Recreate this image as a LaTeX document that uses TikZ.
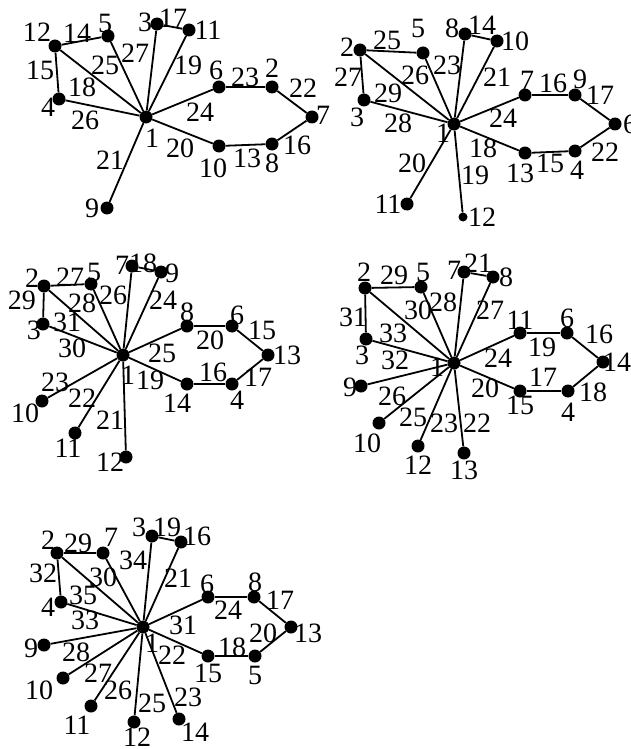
\documentclass[tikz,border=0pt]{standalone}
\usepackage{fontspec}
\setmainfont{Liberation Serif}
\begin{document}
\begin{tikzpicture}[x=1pt,y=-1pt,
  dot/.style={circle,fill=black,inner sep=0pt,minimum size=13pt},
  sdot/.style={circle,fill=black,inner sep=0pt,minimum size=9pt},
  lbl/.style={inner sep=0pt,font=\fontsize{28}{28}\selectfont},
  edge/.style={line width=1.8pt}]
\useasboundingbox (0,0) rectangle (630,749);
% ---------- Graph 1 ----------
\node[dot] (a1) at (146,117) {};
\node[dot] (a12) at (55,46) {};
\node[dot] (a5) at (108,36) {};
\node[dot] (a3) at (157,24) {};
\node[dot] (a11) at (189,30) {};
\node[dot] (a4) at (59,99) {};
\node[dot] (a6) at (219,87) {};
\node[dot] (a2) at (272,87) {};
\node[dot] (a7) at (312,117) {};
\node[dot] (a10) at (219,146) {};
\node[dot] (a8) at (272,144) {};
\node[dot] (a9) at (107,208) {};
\foreach \t in {12,5,3,11,4,6,10,9} \draw[edge] (a1) -- (a\t);
\draw[edge] (a12) -- (a5);
\draw[edge] (a12) -- (a4);
\draw[edge] (a3) -- (a11);
\draw[edge] (a6) -- (a2);
\draw[edge] (a2) -- (a7);
\draw[edge] (a7) -- (a8);
\draw[edge] (a8) -- (a10);
\node[lbl] (a1t12) at (37,32) {12};
\node[lbl] (a1t14) at (77,33) {14};
\node[lbl] (a1t5) at (105,23) {5};
\node[lbl] (a1t3) at (145,22) {3};
\node[lbl] (a1t17) at (173,18) {17};
\node[lbl] (a1t11) at (208,30) {11};
\node[lbl] (a1t15) at (40,70) {15};
\node[lbl] (a1t25) at (105,65) {25};
\node[lbl] (a1t27) at (135,53) {27};
\node[lbl] (a1t19) at (188,65) {19};
\node[lbl] (a1t18) at (82,87) {18};
\node[lbl] (a1t4) at (48,107) {4};
\node[lbl] (a1t26) at (85,120) {26};
\node[lbl] (a1t6) at (216,70) {6};
\node[lbl] (a1t23) at (245,77) {23};
\node[lbl] (a1t2) at (272,68) {2};
\node[lbl] (a1t22) at (303,88) {22};
\node[lbl] (a1t7) at (323,115) {7};
\node[lbl] (a1t24) at (200,112) {24};
\node[lbl] (a1t1) at (152,138) {1};
\node[lbl] (a1t20) at (180,148) {20};
\node[lbl] (a1t16) at (297,145) {16};
\node[lbl] (a1t10) at (213,168) {10};
\node[lbl] (a1t13) at (247,158) {13};
\node[lbl] (a1t8) at (272,163) {8};
\node[lbl] (a1t21) at (110,160) {21};
\node[lbl] (a1t9) at (92,208) {9};
% ---------- Graph 2 ----------
\node[dot] (b1) at (454,124) {};
\node[dot] (b2) at (360,50) {};
\node[dot] (b5) at (423,53) {};
\node[dot] (b8) at (465,34) {};
\node[dot] (b10) at (497,41) {};
\node[dot] (b3) at (364,100) {};
\node[dot] (b7) at (525,95) {};
\node[dot] (b9) at (575,95) {};
\node[dot] (b6) at (615,124) {};
\node[dot] (b13) at (525,153) {};
\node[dot] (b4) at (575,151) {};
\node[dot] (b11) at (407,204) {};
\node[sdot] (b12) at (463,217) {};
\foreach \t in {2,5,8,10,3,7,13,11,12} \draw[edge] (b1) -- (b\t);
\draw[edge] (b2) -- (b5);
\draw[edge] (b2) -- (b3);
\draw[edge] (b8) -- (b10);
\draw[edge] (b7) -- (b9);
\draw[edge] (b9) -- (b6);
\draw[edge] (b6) -- (b4);
\draw[edge] (b4) -- (b13);
\node[lbl] (b1t2) at (347,47) {2};
\node[lbl] (b1t25) at (387,40) {25};
\node[lbl] (b1t5) at (418,28) {5};
\node[lbl] (b1t8) at (452,28) {8};
\node[lbl] (b1t14) at (482,25) {14};
\node[lbl] (b1t10) at (515,41) {10};
\node[lbl] (b1t27) at (348,77) {27};
\node[lbl] (b1t26) at (415,75) {26};
\node[lbl] (b1t23) at (447,65) {23};
\node[lbl] (b1t21) at (497,77) {21};
\node[lbl] (b1t29) at (388,93) {29};
\node[lbl] (b1t3) at (357,117) {3};
\node[lbl] (b1t28) at (398,123) {28};
\node[lbl] (b1t1) at (443,133) {1};
\node[lbl] (b1t7) at (527,80) {7};
\node[lbl] (b1t16) at (553,83) {16};
\node[lbl] (b1t9) at (580,79) {9};
\node[lbl] (b1t17) at (600,95) {17};
\node[lbl] (b1t6) at (630,124) {6};
\node[lbl] (b1t24) at (503,118) {24};
\node[lbl] (b1t18) at (483,148) {18};
\node[lbl] (b1t22) at (605,152) {22};
\node[lbl] (b1t13) at (520,173) {13};
\node[lbl] (b1t15) at (550,163) {15};
\node[lbl] (b1t4) at (577,170) {4};
\node[lbl] (b1t20) at (412,163) {20};
\node[lbl] (b1t19) at (475,175) {19};
\node[lbl] (b1t11) at (388,204) {11};
\node[lbl] (b1t12) at (482,217) {12};
% ---------- Graph 3 ----------
\node[dot] (c1) at (123,355) {};
\node[dot] (c2) at (44,286) {};
\node[dot] (c5) at (91,284) {};
\node[dot] (c7) at (132,266) {};
\node[dot] (c9) at (161,272) {};
\node[dot] (c3) at (43,324) {};
\node[dot] (c8) at (187,326) {};
\node[dot] (c6) at (232,326) {};
\node[dot] (c13) at (268,355) {};
\node[dot] (c14) at (187,384) {};
\node[dot] (c4) at (232,384) {};
\node[dot] (c10) at (42,401) {};
\node[dot] (c11) at (75,433) {};
\node[dot] (c12) at (126,457) {};
\foreach \t in {2,5,7,9,3,8,14,10,11,12} \draw[edge] (c1) -- (c\t);
\draw[edge] (c2) -- (c5);
\draw[edge] (c2) -- (c3);
\draw[edge] (c7) -- (c9);
\draw[edge] (c8) -- (c6);
\draw[edge] (c6) -- (c13);
\draw[edge] (c13) -- (c4);
\draw[edge] (c4) -- (c14);
\node[lbl] (c1t2) at (32,278) {2};
\node[lbl] (c1t27) at (70,277) {27};
\node[lbl] (c1t5) at (94,272) {5};
\node[lbl] (c1t7) at (122,265) {7};
\node[lbl] (c1t18) at (143,263) {18};
\node[lbl] (c1t9) at (172,273) {9};
\node[lbl] (c1t29) at (22,300) {29};
\node[lbl] (c1t28) at (82,303) {28};
\node[lbl] (c1t26) at (113,295) {26};
\node[lbl] (c1t24) at (163,300) {24};
\node[lbl] (c1t31) at (67,322) {31};
\node[lbl] (c1t3) at (34,330) {3};
\node[lbl] (c1t30) at (72,348) {30};
\node[lbl] (c1t8) at (187,312) {8};
\node[lbl] (c1t20) at (210,340) {20};
\node[lbl] (c1t6) at (237,315) {6};
\node[lbl] (c1t15) at (262,330) {15};
\node[lbl] (c1t13) at (287,355) {13};
\node[lbl] (c1t25) at (162,353) {25};
\node[lbl] (c1t1) at (128,375) {1};
\node[lbl] (c1t19) at (150,380) {19};
\node[lbl] (c1t16) at (213,372) {16};
\node[lbl] (c1t17) at (258,377) {17};
\node[lbl] (c1t14) at (177,403) {14};
\node[lbl] (c1t4) at (237,400) {4};
\node[lbl] (c1t23) at (55,382) {23};
\node[lbl] (c1t22) at (82,398) {22};
\node[lbl] (c1t10) at (25,413) {10};
\node[lbl] (c1t21) at (110,420) {21};
\node[lbl] (c1t11) at (68,448) {11};
\node[lbl] (c1t12) at (110,462) {12};
% ---------- Graph 4 ----------
\node[dot] (d1) at (454,363) {};
\node[dot] (d2) at (365,288) {};
\node[dot] (d5) at (421,287) {};
\node[dot] (d7) at (464,272) {};
\node[dot] (d8) at (493,277) {};
\node[dot] (d3) at (366,339) {};
\node[dot] (d11) at (520,333) {};
\node[dot] (d6) at (567,333) {};
\node[dot] (d14) at (603,362) {};
\node[dot] (d15) at (520,391) {};
\node[dot] (d4) at (568,391) {};
\node[dot] (d9) at (361,386) {};
\node[dot] (d10) at (379,423) {};
\node[dot] (d12) at (418,446) {};
\node[dot] (d13) at (464,453) {};
\foreach \t in {2,5,7,8,3,11,15,9,10,12,13} \draw[edge] (d1) -- (d\t);
\draw[edge] (d2) -- (d5);
\draw[edge] (d2) -- (d3);
\draw[edge] (d7) -- (d8);
\draw[edge] (d11) -- (d6);
\draw[edge] (d6) -- (d14);
\draw[edge] (d14) -- (d4);
\draw[edge] (d4) -- (d15);
\node[lbl] (d1t2) at (364,272) {2};
\node[lbl] (d1t29) at (394,275) {29};
\node[lbl] (d1t5) at (423,272) {5};
\node[lbl] (d1t7) at (454,270) {7};
\node[lbl] (d1t21) at (478,263) {21};
\node[lbl] (d1t8) at (506,277) {8};
\node[lbl] (d1t31) at (353,317) {31};
\node[lbl] (d1t30) at (418,310) {30};
\node[lbl] (d1t28) at (443,302) {28};
\node[lbl] (d1t27) at (490,310) {27};
\node[lbl] (d1t11) at (520,320) {11};
\node[lbl] (d1t6) at (567,318) {6};
\node[lbl] (d1t16) at (599,334) {16};
\node[lbl] (d1t33) at (393,333) {33};
\node[lbl] (d1t3) at (362,355) {3};
\node[lbl] (d1t32) at (395,360) {32};
\node[lbl] (d1t19) at (542,347) {19};
\node[lbl] (d1t24) at (498,358) {24};
\node[lbl] (d1t14) at (617,362) {14};
\node[lbl] (d1t1) at (437,367) {1};
\node[lbl] (d1t9) at (350,387) {9};
\node[lbl] (d1t26) at (392,396) {26};
\node[lbl] (d1t20) at (485,388) {20};
\node[lbl] (d1t17) at (543,377) {17};
\node[lbl] (d1t18) at (593,392) {18};
\node[lbl] (d1t15) at (520,405) {15};
\node[lbl] (d1t4) at (568,412) {4};
\node[lbl] (d1t25) at (413,417) {25};
\node[lbl] (d1t23) at (444,423) {23};
\node[lbl] (d1t22) at (477,423) {22};
\node[lbl] (d1t10) at (367,443) {10};
\node[lbl] (d1t12) at (418,465) {12};
\node[lbl] (d1t13) at (464,470) {13};
% ---------- Graph 5 ----------
\node[dot] (e1) at (143,627) {};
\node[dot] (e2) at (57,553) {};
\node[dot] (e7) at (103,553) {};
\node[dot] (e3) at (152,536) {};
\node[dot] (e16) at (181,542) {};
\node[dot] (e4) at (61,602) {};
\node[dot] (e6) at (208,597) {};
\node[dot] (e8) at (254,597) {};
\node[dot] (e13) at (291,627) {};
\node[dot] (e15) at (208,656) {};
\node[dot] (e5) at (255,656) {};
\node[dot] (e9) at (44,645) {};
\node[dot] (e10) at (63,678) {};
\node[dot] (e11) at (91,706) {};
\node[dot] (e12) at (134,722) {};
\node[dot] (e14) at (179,719) {};
\foreach \t in {2,7,3,16,4,6,15,9,10,11,12,14} \draw[edge] (e1) -- (e\t);
\draw[edge] (e2) -- (e7);
\draw[edge] (e2) -- (e4);
\draw[edge] (e3) -- (e16);
\draw[edge] (e6) -- (e8);
\draw[edge] (e8) -- (e13);
\draw[edge] (e13) -- (e5);
\draw[edge] (e5) -- (e15);
\node[lbl] (e1t2) at (48,540) {2};
\node[lbl] (e1t29) at (78,543) {29};
\node[lbl] (e1t7) at (111,537) {7};
\node[lbl] (e1t3) at (139,527) {3};
\node[lbl] (e1t19) at (167,527) {19};
\node[lbl] (e1t16) at (197,536) {16};
\node[lbl] (e1t34) at (133,560) {34};
\node[lbl] (e1t32) at (43,573) {32};
\node[lbl] (e1t30) at (103,577) {30};
\node[lbl] (e1t21) at (178,578) {21};
\node[lbl] (e1t6) at (207,584) {6};
\node[lbl] (e1t8) at (255,582) {8};
\node[lbl] (e1t17) at (280,600) {17};
\node[lbl] (e1t35) at (83,595) {35};
\node[lbl] (e1t4) at (48,607) {4};
\node[lbl] (e1t33) at (85,620) {33};
\node[lbl] (e1t24) at (228,610) {24};
\node[lbl] (e1t31) at (183,625) {31};
\node[lbl] (e1t20) at (263,633) {20};
\node[lbl] (e1t13) at (308,633) {13};
\node[lbl] (e1t1) at (152,643) {1};
\node[lbl] (e1t9) at (31,648) {9};
\node[lbl] (e1t28) at (76,652) {28};
\node[lbl] (e1t18) at (232,647) {18};
\node[lbl] (e1t22) at (172,655) {22};
\node[lbl] (e1t15) at (208,673) {15};
\node[lbl] (e1t5) at (255,675) {5};
\node[lbl] (e1t27) at (98,673) {27};
\node[lbl] (e1t10) at (39,690) {10};
\node[lbl] (e1t26) at (118,690) {26};
\node[lbl] (e1t25) at (152,703) {25};
\node[lbl] (e1t23) at (188,697) {23};
\node[lbl] (e1t11) at (77,725) {11};
\node[lbl] (e1t14) at (195,732) {14};
\node[lbl] (e1t12) at (137,737) {12};
\end{tikzpicture}
\end{document}
